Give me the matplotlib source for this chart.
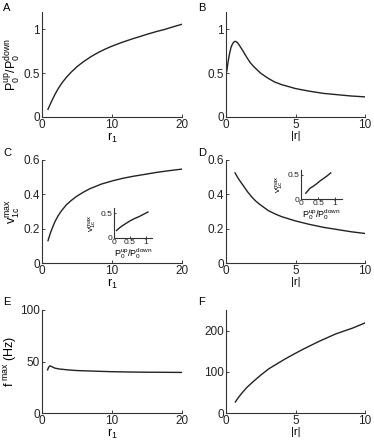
import numpy as np
import matplotlib
matplotlib.use('Agg')
import matplotlib.pyplot as plt

plt.rcParams['font.family'] = ['Liberation Sans', 'DejaVu Sans']
plt.rcParams['mathtext.fontset'] = 'custom'
plt.rcParams['mathtext.rm'] = 'Liberation Sans'
plt.rcParams['mathtext.it'] = 'Liberation Sans:italic'
plt.rcParams['font.size'] = 8.5

#%% data
# A: P0up/P0down vs r1
r1_A = [0.85, 1.2, 1.55, 1.9, 2.25, 2.6, 3.0, 3.5, 4.2, 5.0, 5.8, 7.0, 8.1, 9.0, 10.0, 11.5, 12.8, 14.0, 15.2, 16.5, 17.5, 18.7, 20.0]
pr_A = [0.087, 0.15, 0.21, 0.265, 0.315, 0.36, 0.405, 0.455, 0.515, 0.575, 0.625, 0.69, 0.74, 0.775, 0.81, 0.855, 0.89, 0.92, 0.95, 0.98, 1.0, 1.03, 1.06]
# B: P0up/P0down vs |r|
r_B = [0.05, 0.15, 0.25, 0.35, 0.45, 0.55, 0.65, 0.75, 0.85, 1.0, 1.2, 1.5, 1.75, 2.0, 2.5, 3.0, 3.5, 4.0, 5.0, 6.0, 7.0, 8.0, 9.0, 10.0]
pr_B = [0.52, 0.63, 0.72, 0.79, 0.83, 0.855, 0.865, 0.86, 0.845, 0.81, 0.76, 0.68, 0.62, 0.575, 0.50, 0.445, 0.40, 0.37, 0.325, 0.295, 0.27, 0.255, 0.24, 0.23]
# C: v1c max vs r1
r1_C = [0.86, 1.2, 1.58, 1.9, 2.3, 2.8, 3.5, 4.2, 4.9, 5.8, 6.8, 8.5, 10.2, 11.5, 13.0, 14.5, 16.4, 18.0, 20.0]
v_C = [0.13, 0.175, 0.215, 0.245, 0.275, 0.305, 0.34, 0.365, 0.387, 0.41, 0.432, 0.46, 0.48, 0.493, 0.505, 0.515, 0.528, 0.537, 0.547]
# C inset: v1c max vs P0up/P0down
pr_Ci = [0.08, 0.15, 0.25, 0.35, 0.5, 0.65, 0.8, 0.95, 1.07]
v_Ci = [0.15, 0.19, 0.24, 0.28, 0.34, 0.39, 0.43, 0.48, 0.52]
# D: v1c max vs |r|
r_D = [0.65, 0.9, 1.25, 1.55, 1.85, 2.15, 2.45, 3.05, 3.5, 4.0, 5.0, 6.0, 7.0, 8.0, 9.0, 10.0]
v_D = [0.525, 0.49, 0.45, 0.415, 0.385, 0.36, 0.34, 0.305, 0.287, 0.27, 0.245, 0.225, 0.208, 0.195, 0.182, 0.172]
# D inset
pr_Di = [0.14, 0.2, 0.26, 0.35, 0.45, 0.55, 0.65, 0.75, 0.87]
v_Di = [0.12, 0.17, 0.22, 0.26, 0.31, 0.37, 0.42, 0.47, 0.54]
# E: f max vs r1
r1_E = [0.8, 0.95, 1.15, 1.4, 1.86, 2.5, 3.8, 5.0, 7.6, 10.0, 12.5, 15.0, 17.5, 20.0]
f_E = [41.9, 44.5, 45.8, 45.0, 43.5, 42.7, 41.8, 41.2, 40.6, 40.1, 39.8, 39.6, 39.5, 39.4]
# F: f max vs |r|
r_F = [0.67, 0.9, 1.15, 1.5, 1.9, 2.5, 3.1, 3.7, 4.3, 5.0, 5.5, 6.1, 6.7, 7.3, 7.9, 8.5, 9.1, 10.0]
f_F = [26.7, 38, 48.6, 62, 74.5, 92, 107.7, 120, 132, 145, 154, 164, 174, 183, 192, 199, 206, 218.6]

#%% figure
W, H = 374., 445.
fig = plt.figure(figsize=(W/100, H/100), dpi=100)

def box(l, t, r, b):
    return [l/W, 1-b/H, (r-l)/W, (b-t)/H]

def style(ax):
    for s in ['top', 'right']:
        ax.spines[s].set_visible(False)
    for s in ['left', 'bottom']:
        ax.spines[s].set_linewidth(0.8)
        ax.spines[s].set_color('#333333')
    ax.tick_params(direction='in', length=2, width=0.6, pad=1.5, colors='#222222')

col = '#222222'
axA = fig.add_axes(box(42, 12, 182, 117))
axA.plot(r1_A, pr_A, color=col, lw=1)
axA.set_xlim(0, 20); axA.set_ylim(0, 1.2)
axA.set_xticks([0, 10, 20]); axA.set_yticks([0, 0.5, 1]); axA.set_yticklabels(['0', '0.5', '1'])
axA.set_xlabel(r'$\mathregular{r_1}$', labelpad=0, fontsize=9)
axA.set_ylabel(r'$\mathregular{P_0^{up}/P_0^{down}}$', labelpad=1, fontsize=9)

axB = fig.add_axes(box(226, 12, 365, 117))
axB.plot(r_B, pr_B, color=col, lw=1)
axB.set_xlim(0, 10); axB.set_ylim(0, 1.2)
axB.set_xticks([0, 5, 10]); axB.set_yticks([0, 0.5, 1]); axB.set_yticklabels(['0', '0.5', '1'])
axB.set_xlabel('|r|', labelpad=0, fontsize=8)

axC = fig.add_axes(box(42, 160, 182, 263))
axC.plot(r1_C, v_C, color=col, lw=1)
axC.set_xlim(0, 20); axC.set_ylim(0, 0.6)
axC.set_xticks([0, 10, 20]); axC.set_yticks([0, 0.2, 0.4, 0.6]); axC.set_yticklabels(['0', '0.2', '0.4', '0.6'])
axC.set_xlabel(r'$\mathregular{r_1}$', labelpad=0, fontsize=9)
axC.set_ylabel(r'$\mathregular{v_{1c}^{max}}$', labelpad=1, fontsize=9)

axCi = fig.add_axes(box(114, 208, 152, 238))
axCi.plot(pr_Ci, v_Ci, color=col, lw=1)
axCi.set_xlim(0, 1.2); axCi.set_ylim(0, 0.6)
axCi.set_xticks([0, 0.5, 1]); axCi.set_xticklabels(['0', '0.5', '1'])
axCi.set_yticks([0, 0.5]); axCi.set_yticklabels(['0', '0.5'])
axCi.set_xlabel(r'$\mathregular{P_0^{up}/P_0^{down}}$', labelpad=0, fontsize=6.5)
axCi.set_ylabel(r'$\mathregular{v_{1c}^{max}}$', labelpad=1, fontsize=6)

axD = fig.add_axes(box(226, 160, 365, 263))
axD.plot(r_D, v_D, color=col, lw=1)
axD.set_xlim(0, 10); axD.set_ylim(0, 0.6)
axD.set_xticks([0, 5, 10]); axD.set_yticks([0, 0.2, 0.4, 0.6]); axD.set_yticklabels(['0', '0.2', '0.4', '0.6'])
axD.set_xlabel('|r|', labelpad=0, fontsize=8)

axDi = fig.add_axes(box(301, 170, 342, 199))
axDi.plot(pr_Di, v_Di, color=col, lw=1)
axDi.set_xlim(0, 1.2); axDi.set_ylim(0, 0.6)
axDi.set_xticks([0, 0.5, 1]); axDi.set_xticklabels(['0', '0.5', '1'])
axDi.set_yticks([0, 0.5]); axDi.set_yticklabels(['0', '0.5'])
axDi.set_xlabel(r'$\mathregular{P_0^{up}/P_0^{down}}$', labelpad=0, fontsize=6.5)
axDi.set_ylabel(r'$\mathregular{v_{1c}^{max}}$', labelpad=1, fontsize=6)

axE = fig.add_axes(box(42, 310, 182, 413))
axE.plot(r1_E, f_E, color=col, lw=1)
axE.set_xlim(0, 20); axE.set_ylim(0, 100)
axE.set_xticks([0, 10, 20]); axE.set_yticks([0, 50, 100])
axE.set_xlabel(r'$\mathregular{r_1}$', labelpad=0, fontsize=9)
axE.set_ylabel(r'$\mathregular{f^{\ max}\ (Hz)}$', labelpad=1, fontsize=9)

axF = fig.add_axes(box(226, 310, 365, 413))
axF.plot(r_F, f_F, color=col, lw=1)
axF.set_xlim(0, 10); axF.set_ylim(0, 250)
axF.set_xticks([0, 5, 10]); axF.set_yticks([0, 100, 200])
axF.set_xlabel('|r|', labelpad=0, fontsize=8)

for ax in [axA, axB, axC, axD, axE, axF]:
    style(ax)
for ax in [axCi, axDi]:
    style(ax)
    ax.tick_params(labelsize=6, length=1.5, pad=1)

for lab, x, y in [('A', 3, 8), ('B', 198, 8), ('C', 3, 153), ('D', 198, 153), ('E', 3, 302), ('F', 198, 302)]:
    fig.text(x/W, 1-y/H, lab, fontsize=8, va='center', ha='left')

fig.savefig('out.png', dpi=100)
